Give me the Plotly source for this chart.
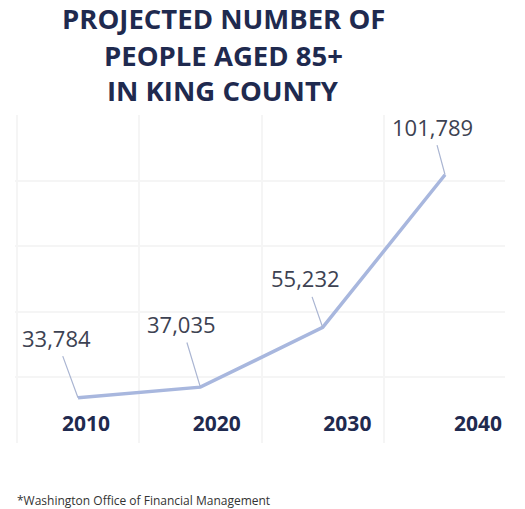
import plotly.graph_objects as go

years = [2010, 2020, 2030, 2040]
people = [33784, 37035, 55232, 101789]
value_labels = ["33,784", "37,035", "55,232", "101,789"]
tick_labels = ["2010", "2020", "2030", "2040"]
title_lines = ["PROJECTED NUMBER OF", "PEOPLE AGED 85+", "IN KING COUNTY"]
footnote = "*Washington Office of Financial Management"
# label offsets (pixels) of each data label from its point
label_dx = [-22, -19, -17, -13]
label_dy = [-60, -63, -49, -48]

W, H = 525, 509

def py(px):
    return 1 - px / H

fig = go.Figure()
fig.add_trace(go.Scatter(
    x=years, y=people, mode="lines",
    line=dict(color="#a8b7de", width=3.5),
    hoverinfo="skip", showlegend=False,
))
# invisible trace to carry the category label axis
fig.add_trace(go.Scatter(
    x=years, y=people, xaxis="x2", mode="markers",
    marker=dict(opacity=0), hoverinfo="skip", showlegend=False,
))

annotations = []
for x, y, t, dx, dy in zip(years, people, value_labels, label_dx, label_dy):
    annotations.append(dict(
        x=x, y=y, xref="x", yref="y", text=t, showarrow=True,
        arrowhead=0, arrowwidth=1.2, arrowcolor="#aab5d2",
        ax=dx, ay=dy, standoff=0, startstandoff=2,
        font=dict(family="Open Sans", size=22, color="#3d4252"),
    ))

title_y = [18, 55, 90]
for t, yy in zip(title_lines, title_y):
    annotations.append(dict(
        x=223 / W, y=py(yy), xref="paper", yref="paper", text=t,
        showarrow=False, xanchor="center", yanchor="middle",
        font=dict(family="Open Sans", size=27.5, color="#1f2a4f", weight="bold"),
    ))

annotations.append(dict(
    x=15 / W, y=py(500), xref="paper", yref="paper", text=footnote,
    showarrow=False, xanchor="left", yanchor="middle",
    font=dict(family="Open Sans", size=12, color="#333333"),
))

fig.update_layout(
    width=W, height=H,
    margin=dict(l=0, r=0, t=0, b=0),
    paper_bgcolor="white", plot_bgcolor="white",
    showlegend=False,
    xaxis=dict(
        domain=[15 / W, 505 / W], range=[2004.85, 2044.9],
        tick0=2005, dtick=10, showgrid=True, gridcolor="#f5f5f5", gridwidth=2,
        showticklabels=False, zeroline=False, showline=False, ticks="",
    ),
    xaxis2=dict(
        overlaying="x", anchor="free", position=py(409), side="bottom",
        domain=[15 / W, 505 / W], range=[2004.57, 2042.06],
        tickvals=years, ticktext=tick_labels, showgrid=False,
        zeroline=False, showline=False, ticks="",
        tickfont=dict(family="Open Sans", size=21, color="#1f2a4f", weight="bold"),
    ),
    yaxis=dict(
        domain=[py(443), py(115)], range=[20000, 120000], dtick=20000,
        showgrid=True, gridcolor="#f5f5f5", gridwidth=2,
        showticklabels=False, zeroline=False, showline=False, ticks="",
    ),
    annotations=annotations,
)

fig.write_html(
    "out.html",
    config={"displayModeBar": False},
    post_script="document.body.style.margin='0';document.body.style.overflow='hidden';",
)
